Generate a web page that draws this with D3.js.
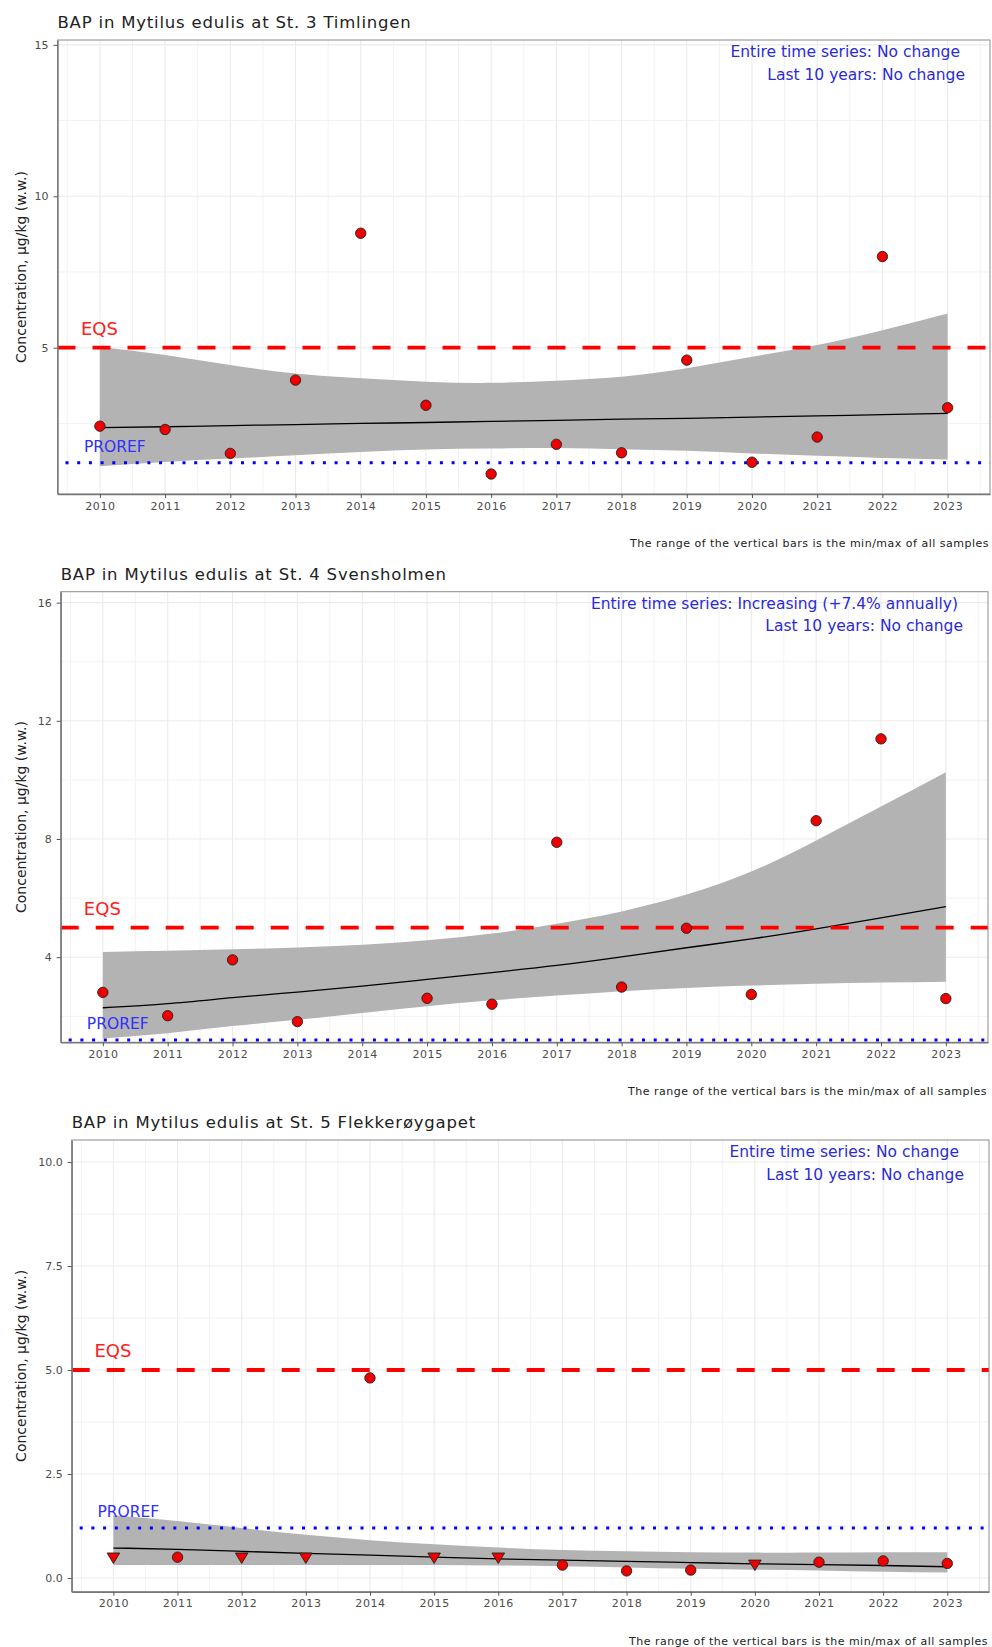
<!DOCTYPE html>
<html>
<head>
<meta charset="utf-8">
<title>BAP in Mytilus edulis</title>
<script src="https://d3js.org/d3.v7.min.js"></script>
<style>
  body { margin: 0; padding: 0; background: #fff; }
  svg text { font-family: "DejaVu Sans", sans-serif; }
</style>
</head>
<body>
<script>
// ---- data ----
var years = [2010, 2011, 2012, 2013, 2014, 2015, 2016, 2017, 2018, 2019, 2020, 2021, 2022, 2023];
var halfYears = [2009.5, 2010.5, 2011.5, 2012.5, 2013.5, 2014.5, 2015.5, 2016.5, 2017.5, 2018.5, 2019.5, 2020.5, 2021.5, 2022.5, 2023.5];
var eqs = 5.0;
var proref = 1.2;

// St. 3 Timlingen
var st3Years = [2010, 2011, 2012, 2013, 2014, 2015, 2016, 2017, 2018, 2019, 2020, 2021, 2022, 2023];
var st3Conc  = [2.41, 2.30, 1.51, 3.93, 8.78, 3.10, 0.83, 1.81, 1.53, 4.59, 1.22, 2.05, 8.01, 3.02];
var st3Loq   = [0, 0, 0, 0, 0, 0, 0, 0, 0, 0, 0, 0, 0, 0];
var st3Trend = [2.36, 2.39, 2.43, 2.46, 2.50, 2.53, 2.57, 2.60, 2.64, 2.67, 2.71, 2.75, 2.79, 2.83];
var st3Lower = [1.09, 1.23, 1.34, 1.45, 1.56, 1.64, 1.67, 1.69, 1.65, 1.60, 1.51, 1.43, 1.36, 1.31];
var st3Upper = [5.02, 4.76, 4.43, 4.15, 3.99, 3.88, 3.84, 3.91, 4.04, 4.32, 4.70, 5.09, 5.58, 6.13];

// St. 4 Svensholmen (no 2014 sample)
var st4Years = [2010, 2011, 2012, 2013, 2015, 2016, 2017, 2018, 2019, 2020, 2021, 2022, 2023];
var st4Conc  = [2.81, 2.02, 3.91, 1.82, 2.61, 2.41, 7.89, 2.99, 4.98, 2.74, 8.62, 11.39, 2.60];
var st4Loq   = [0, 0, 0, 0, 0, 0, 0, 0, 0, 0, 0, 0, 0];
var st4Trend = [2.29, 2.43, 2.63, 2.82, 3.02, 3.25, 3.48, 3.72, 4.01, 4.32, 4.62, 4.96, 5.33, 5.71];
var st4Lower = [1.25, 1.43, 1.67, 1.88, 2.11, 2.34, 2.54, 2.70, 2.85, 2.96, 3.04, 3.10, 3.14, 3.17];
var st4Upper = [4.18, 4.22, 4.27, 4.33, 4.42, 4.57, 4.80, 5.13, 5.55, 6.12, 6.90, 7.95, 9.10, 10.26];

// St. 5 Flekkerøygapet (triangles = below LOQ)
var st5Years = [2010, 2011, 2012, 2013, 2014, 2015, 2016, 2017, 2018, 2019, 2020, 2021, 2022, 2023];
var st5Conc  = [0.48, 0.50, 0.48, 0.48, 4.81, 0.48, 0.48, 0.31, 0.17, 0.19, 0.31, 0.38, 0.41, 0.35];
var st5Loq   = [1, 0, 1, 1, 0, 1, 1, 0, 0, 0, 1, 0, 0, 0];
var st5Trend = [0.72, 0.69, 0.64, 0.59, 0.55, 0.50, 0.46, 0.43, 0.40, 0.37, 0.34, 0.32, 0.30, 0.27];
var st5Lower = [0.31, 0.31, 0.31, 0.31, 0.31, 0.31, 0.30, 0.28, 0.25, 0.22, 0.20, 0.18, 0.15, 0.13];
var st5Upper = [1.51, 1.37, 1.20, 1.04, 0.91, 0.81, 0.73, 0.67, 0.64, 0.62, 0.61, 0.61, 0.62, 0.62];

var titles = [
  "BAP in Mytilus edulis at St. 3 Timlingen",
  "BAP in Mytilus edulis at St. 4 Svensholmen",
  "BAP in Mytilus edulis at St. 5 Flekkerøygapet"
];
var trendTexts = [
  ["Entire time series: No change", "Last 10 years: No change"],
  ["Entire time series: Increasing (+7.4% annually)", "Last 10 years: No change"],
  ["Entire time series: No change", "Last 10 years: No change"]
];
var yTicks = [[5, 10, 15], [4, 8, 12, 16], [0, 2.5, 5, 7.5, 10]];
var yMinor = [[2.5, 7.5, 12.5], [2, 6, 10, 14], [1.25, 3.75, 6.25, 8.75]];
var yDomains = [[0.17, 15.16], [1.12, 16.37], [-0.33, 10.53]];
var yFormats = [d3.format("d"), d3.format("d"), d3.format(".1f")];
var footnote = "The range of the vertical bars is the min/max of all samples";
var yTitle = "Concentration, µg/kg (w.w.)";

var panels = [
  {years: st3Years, conc: st3Conc, loq: st3Loq, trend: st3Trend, lower: st3Lower, upper: st3Upper},
  {years: st4Years, conc: st4Conc, loq: st4Loq, trend: st4Trend, lower: st4Lower, upper: st4Upper},
  {years: st5Years, conc: st5Conc, loq: st5Loq, trend: st5Trend, lower: st5Lower, upper: st5Upper}
];

// ---- layout ----
var width = 992, height = 1647;
var boxes = [
  {left: 57.5, right: 990, top: 40, bottom: 494},
  {left: 60.7, right: 988, top: 591.7, bottom: 1042.3},
  {left: 71.7, right: 989, top: 1140, bottom: 1591.7}
];
var xDomain = [2009.35, 2023.65];

var svg = d3.select("body").append("svg")
  .attr("width", width)
  .attr("height", height);

panels.forEach(function (p, i) {
  var b = boxes[i];
  var x = d3.scaleLinear().domain(xDomain).range([b.left, b.right]);
  var y = d3.scaleLinear().domain(yDomains[i]).range([b.bottom, b.top]);
  var g = svg.append("g");

  // gridlines
  g.selectAll(".vmin").data(halfYears).join("line")
    .attr("x1", d => x(d)).attr("x2", d => x(d))
    .attr("y1", b.top).attr("y2", b.bottom)
    .attr("stroke", "#f2f2f2").attr("stroke-width", 1);
  g.selectAll(".hmin").data(yMinor[i]).join("line")
    .attr("x1", b.left).attr("x2", b.right)
    .attr("y1", d => y(d)).attr("y2", d => y(d))
    .attr("stroke", "#f2f2f2").attr("stroke-width", 1);
  g.selectAll(".vmaj").data(years).join("line")
    .attr("x1", d => x(d)).attr("x2", d => x(d))
    .attr("y1", b.top).attr("y2", b.bottom)
    .attr("stroke", "#ebebeb").attr("stroke-width", 1.1);
  g.selectAll(".hmaj").data(yTicks[i]).join("line")
    .attr("x1", b.left).attr("x2", b.right)
    .attr("y1", d => y(d)).attr("y2", d => y(d))
    .attr("stroke", "#ebebeb").attr("stroke-width", 1.1);

  // confidence band + trend
  var band = d3.area()
    .x((d, j) => x(years[j]))
    .y0((d, j) => y(p.lower[j]))
    .y1((d, j) => y(p.upper[j]))
    .curve(d3.curveNatural);
  g.append("path").datum(p.upper).attr("d", band).attr("fill", "#b3b3b3");

  var line = d3.line()
    .x((d, j) => x(years[j]))
    .y(d => y(d))
    .curve(d3.curveNatural);
  g.append("path").datum(p.trend).attr("d", line)
    .attr("fill", "none").attr("stroke", "#000").attr("stroke-width", 1.3);

  // EQS and PROREF lines
  g.append("line")
    .attr("x1", b.left).attr("x2", b.right)
    .attr("y1", y(eqs)).attr("y2", y(eqs))
    .attr("stroke", "#ff0000").attr("stroke-width", 3.8)
    .attr("stroke-dasharray", "18,17");
  g.append("line")
    .attr("x1", b.left + 8).attr("x2", b.right)
    .attr("y1", y(proref)).attr("y2", y(proref))
    .attr("stroke", "#0000ff").attr("stroke-width", 3)
    .attr("stroke-dasharray", "3,8.7");
  g.append("text")
    .attr("x", x(2010) - 19).attr("y", y(eqs) - 13)
    .attr("fill", "#ff2020").attr("font-size", 18)
    .text("EQS");
  g.append("text")
    .attr("x", x(2010) - 16).attr("y", y(proref) - 11)
    .attr("fill", "#3030ff").attr("font-size", 15.5)
    .text("PROREF");

  // points
  var pts = p.years.map((yr, j) => ({year: yr, value: p.conc[j], loq: p.loq[j]}));
  g.selectAll(".pt").data(pts.filter(d => !d.loq)).join("circle")
    .attr("cx", d => x(d.year)).attr("cy", d => y(d.value))
    .attr("r", 5.2)
    .attr("fill", "#ee0000").attr("stroke", "#222").attr("stroke-width", 0.9);
  g.selectAll(".tri").data(pts.filter(d => d.loq)).join("path")
    .attr("d", d => {
      var cx = x(d.year), cy = y(d.value);
      return "M" + (cx - 6.3) + "," + (cy - 5) + "L" + (cx + 6.3) + "," + (cy - 5) + "L" + cx + "," + (cy + 5.5) + "Z";
    })
    .attr("fill", "#ee0000").attr("stroke", "#222").attr("stroke-width", 0.9);

  // panel border
  g.append("rect")
    .attr("x", b.left).attr("y", b.top)
    .attr("width", b.right - b.left).attr("height", b.bottom - b.top)
    .attr("fill", "none").attr("stroke", "#8c8c8c").attr("stroke-width", 1);

  // axes
  var xAxis = g.append("g").attr("transform", "translate(0," + b.bottom + ")")
    .call(d3.axisBottom(x).tickValues(years).tickFormat(d3.format("d"))
      .tickSize(4).tickSizeOuter(0).tickPadding(4));
  var yAxis = g.append("g").attr("transform", "translate(" + b.left + ",0)")
    .call(d3.axisLeft(y).tickValues(yTicks[i]).tickFormat(yFormats[i])
      .tickSize(4).tickSizeOuter(0).tickPadding(5));
  [xAxis, yAxis].forEach(function (ax) {
    ax.select(".domain").attr("stroke", "#777").attr("stroke-width", 1.4);
    ax.selectAll(".tick line").attr("stroke", "#555");
    ax.selectAll(".tick text").attr("fill", "#4d4d4d").attr("font-size", 11)
      .style("font-family", "DejaVu Sans");
  });
  xAxis.selectAll(".tick text").attr("letter-spacing", 0.6);

  // titles and notes
  svg.append("text")
    .attr("x", b.left).attr("y", b.top - 12)
    .attr("fill", "#222").attr("font-size", 16.5).attr("letter-spacing", 0.8)
    .text(titles[i]);
  svg.append("text")
    .attr("transform", "translate(26," + (b.top + b.bottom) / 2 + ") rotate(-90)")
    .attr("text-anchor", "middle")
    .attr("fill", "#222").attr("font-size", 14)
    .text(yTitle);
  svg.append("text")
    .attr("x", b.right - 30).attr("y", b.top + 17)
    .attr("text-anchor", "end").attr("fill", "#2b2bd6").attr("font-size", 15.5)
    .text(trendTexts[i][0]);
  svg.append("text")
    .attr("x", b.right - 25).attr("y", b.top + 39.5)
    .attr("text-anchor", "end").attr("fill", "#2b2bd6").attr("font-size", 15.5)
    .text(trendTexts[i][1]);
  svg.append("text")
    .attr("x", b.right - 1).attr("y", b.bottom + 53)
    .attr("text-anchor", "end").attr("fill", "#222").attr("font-size", 11)
    .attr("letter-spacing", 0.5)
    .text(footnote);
});
</script>
</body>
</html>
